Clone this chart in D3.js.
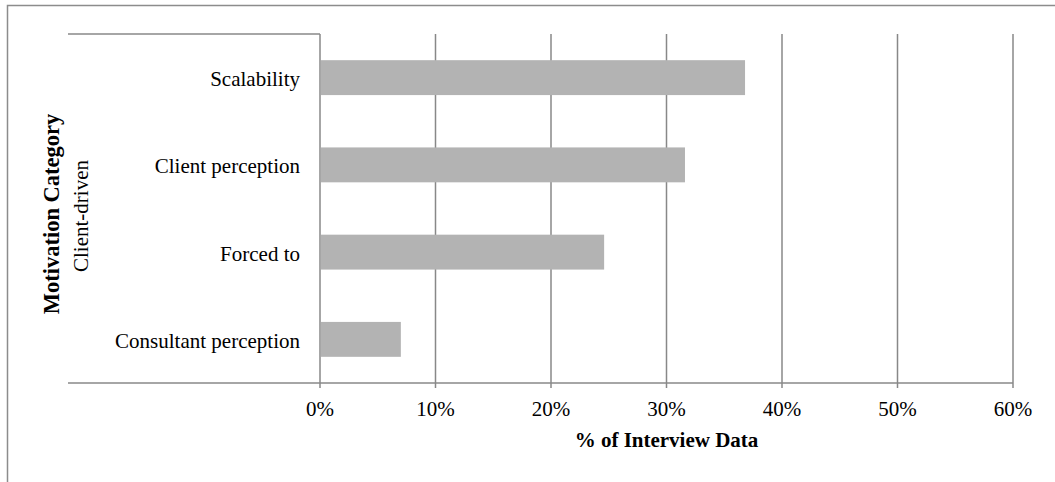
<!DOCTYPE html>
<html>
  <head>
    <script src="https://cdnjs.cloudflare.com/ajax/libs/d3/7.8.5/d3.min.js"></script>
    <style>
      body { margin: 0; background: #fff; }
      text { font-family: "Liberation Serif", "Times New Roman", serif; fill: #000; font-size: 21px; }
    </style>
  </head>
  <body>
    <div id="vis"></div>
    <script type="text/javascript">

        // data
        const categories = ["Scalability", "Client perception", "Forced to", "Consultant perception"];
        const values = [0.368, 0.316, 0.246, 0.070];
        const tickValues = [0, 0.1, 0.2, 0.3, 0.4, 0.5, 0.6];
        const groupLabel = "Client-driven";

        const width = 1055, height = 482;
        const plotLeft = 320, plotRight = 1013, plotTop = 34, plotBottom = 383;
        const gridColor = "#888888";

        const svg = d3.select("#vis")
            .append("svg")
            .attr("width", width)
            .attr("height", height);

        // outer chart border
        svg.append("rect")
            .attr("x", 7.5).attr("y", 5.5)
            .attr("width", 1100).attr("height", 600)
            .attr("fill", "none")
            .attr("stroke", "#8c8c8c")
            .attr("stroke-width", 1.5);

        const x = d3.scaleLinear().domain([0, 0.6]).range([plotLeft, plotRight]);
        const y = d3.scaleBand().domain(categories).range([plotTop, plotBottom]).paddingInner(0.6).paddingOuter(0.3);

        // vertical gridlines
        svg.append("g")
            .selectAll("line")
            .data(tickValues)
            .join("line")
            .attr("x1", d => x(d)).attr("x2", d => x(d))
            .attr("y1", plotTop).attr("y2", plotBottom + 5)
            .attr("stroke", gridColor)
            .attr("stroke-width", 1.5);

        // bars
        svg.append("g")
            .selectAll("rect")
            .data(values)
            .join("rect")
            .attr("x", x(0) + 1)
            .attr("y", (d, i) => y(categories[i]))
            .attr("width", d => x(d) - x(0) - 1)
            .attr("height", y.bandwidth())
            .attr("fill", "#b3b3b3");

        // category axis lines (multi-level group boundaries)
        svg.append("line")
            .attr("x1", 68).attr("x2", plotLeft).attr("y1", plotTop).attr("y2", plotTop)
            .attr("stroke", gridColor).attr("stroke-width", 1.5);
        svg.append("line")
            .attr("x1", 68).attr("x2", plotRight).attr("y1", plotBottom).attr("y2", plotBottom)
            .attr("stroke", gridColor).attr("stroke-width", 1.5);

        // category labels
        svg.append("g")
            .selectAll("text")
            .data(categories)
            .join("text")
            .attr("x", plotLeft - 20)
            .attr("y", d => y(d) + y.bandwidth() / 2)
            .attr("dy", "0.4em")
            .attr("text-anchor", "end")
            .text(d => d);

        // tick labels
        svg.append("g")
            .selectAll("text")
            .data(tickValues)
            .join("text")
            .attr("x", d => x(d))
            .attr("y", 416)
            .attr("text-anchor", "middle")
            .text(d3.format(".0%"));

        // axis titles
        svg.append("text")
            .attr("x", x(0.3))
            .attr("y", 447)
            .attr("text-anchor", "middle")
            .style("font-weight", "bold")
            .text("% of Interview Data");

        svg.append("text")
            .attr("transform", "translate(59,214) rotate(-90)")
            .attr("text-anchor", "middle")
            .style("font-weight", "bold")
            .style("font-size", "22.5px")
            .text("Motivation Category");

        svg.append("text")
            .attr("transform", "translate(88,216) rotate(-90)")
            .attr("text-anchor", "middle")
            .text(groupLabel);

    </script>
  </body>
</html>
